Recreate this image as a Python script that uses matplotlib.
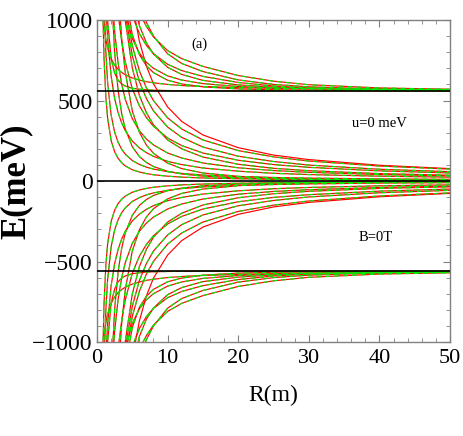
import numpy as np
import matplotlib
matplotlib.use("Agg")
import matplotlib.pyplot as plt
from matplotlib.ticker import MultipleLocator

plt.rcParams["font.family"] = ["Liberation Serif", "DejaVu Serif"]

# radius grid (m) shared by every level
R = [0.8, 1, 1.25, 1.5, 2, 2.5, 3, 3.5, 4, 5, 6, 7, 8, 10, 12, 15, 20, 25, 30, 40, 50]

GAP = 560  # edge of the gap (meV)

# levels that fall through the gap toward E = 0 (upper branch, meV)
BAND_LEVELS = [
    [1597, 1125, 802, 614, 410, 303, 239, 197, 167, 127, 103, 86, 74, 58, 47, 37, 27, 22, 18, 13, 10.5],
    [1812, 1400, 1088, 889, 651, 512, 423, 360, 313, 248, 206, 176, 153, 122, 102, 81, 61, 48, 40, 30, 24],
    [7385, 4755, 3066, 2145, 1224, 795, 560, 417, 324, 213, 152, 115, 90, 60, 44, 30, 19, 13, 10, 6.5, 4.7],
    [4947, 3477, 2473, 1890, 1257, 929, 731, 600, 508, 387, 312, 261, 224, 174, 143, 112, 82, 65, 54, 40, 32],
    [16723, 10710, 6861, 4769, 2687, 1723, 1199, 882, 677, 435, 303, 223, 172, 111, 77, 50, 29, 19, 13, 7.6, 5.0],
    [6074, 4384, 3203, 2500, 1717, 1298, 1039, 865, 740, 573, 467, 394, 340, 267, 220, 174, 129, 102, 85, 63, 50],
    [16964, 11176, 7408, 5322, 3193, 2171, 1597, 1238, 998, 702, 532, 424, 349, 255, 200, 149, 104, 79, 64, 46, 36],
    [9019, 6499, 4741, 3696, 2533, 1912, 1530, 1272, 1088, 841, 685, 578, 499, 392, 323, 255, 189, 150, 124, 93, 74],
    [18999, 12894, 8840, 6548, 4142, 2945, 2249, 1803, 1495, 1104, 869, 713, 603, 460, 370, 286, 207, 161, 133, 98, 77],
    [12015, 8250, 5728, 4289, 2763, 1992, 1539, 1245, 1041, 778, 618, 512, 435, 335, 271, 211, 154, 121, 99, 73, 58],
    [1103, 756, 524, 392, 252, 181, 140, 113, 94, 70, 56, 46, 39, 30, 24, 19, 14, 11, 9, 6.6, 5.2],
]
RED_ONLY = [8]  # only the red calculation shows this level

# levels that stay above the gap edge (upper branch, meV)
OUTER_LEVELS = [
    [6800, 5200, 4000, 3300, 2400, 1980, 1700, 1500, 1350, 1160, 1045, 960, 895, 810, 760, 712, 655, 620, 598, 578, 570],
    [31000, 20000, 13000, 9000, 5200, 3500, 2600, 2080, 1720, 1300, 1110, 985, 900, 790, 730, 680, 628, 600, 585, 571, 566],
    [8000, 6000, 4500, 3500, 2500, 1900, 1566, 1358, 1213, 1028, 916, 842, 791, 725, 686, 650, 612, 590, 578, 568, 564],
    [23000, 15000, 10000, 7000, 4200, 2900, 2185, 1754, 1474, 1145, 966, 858, 789, 706, 662, 625, 597, 583, 576, 569, 566],
    [10500, 7000, 4800, 3500, 2250, 1700, 1375, 1178, 1046, 885, 794, 737, 700, 653, 627, 605, 587, 578, 573, 568, 565],
    [27000, 16000, 10000, 6500, 3700, 2400, 1749, 1381, 1157, 909, 785, 716, 673, 626, 603, 585, 572, 567, 565, 562, 561],
    [1060, 960, 880, 827, 760, 720, 693, 674, 660, 640, 627, 617, 610, 600, 593, 587, 580, 576, 573, 570, 568],
    [3000, 1900, 1300, 1000, 760, 670, 625, 603, 590, 576, 570, 566, 564, 562, 561, 560.5, 560.3, 560.2, 560.1, 560.1, 560],
]

RED = "#ff0000"
GREEN = "#00ee00"
FRAME = "#808080"

fig = plt.figure(figsize=(4.63, 4.36), dpi=100)
ax = fig.add_axes([0.2095, 0.2156, 0.7625, 0.7385])

levels = BAND_LEVELS + OUTER_LEVELS
for sign in (1, -1):
    for i, E in enumerate(levels):
        y = sign * np.array(E)
        ax.plot(R, y, color=RED, lw=0.85, zorder=2)
        if i not in RED_ONLY:
            ax.plot(R, y, color=GREEN, lw=0.85, dashes=(4, 3.5), zorder=2.5)

for level in (GAP, 0, -GAP):
    ax.axhline(level, color="black", lw=1.2, zorder=3)

ax.set_xlim(0, 50)
ax.set_ylim(-1000, 1000)
ax.xaxis.set_major_locator(MultipleLocator(10))
ax.xaxis.set_minor_locator(MultipleLocator(2))
ax.yaxis.set_major_locator(MultipleLocator(500))
ax.yaxis.set_minor_locator(MultipleLocator(100))
ax.tick_params(which="both", direction="in", top=True, right=True, color=FRAME)
ax.tick_params(which="major", length=5, width=0.8)
ax.tick_params(which="minor", length=3, width=0.6)
ax.tick_params(axis="x", labelsize=16, pad=5)
ax.tick_params(axis="y", labelsize=17, pad=3)
for spine in ax.spines.values():
    spine.set_color(FRAME)
    spine.set_linewidth(1.0)

ax.set_xlabel("R(m)", fontsize=17, labelpad=12)
ax.set_ylabel("E(meV)", fontsize=25, fontweight="bold", labelpad=0)

ax.text(14.5, 850, "(a)", fontsize=10.5, ha="center", va="center")
ax.text(40, 355, "u=0 meV", fontsize=10.5, ha="center", va="center")
ax.text(39.5, -350, "B=0T", fontsize=10.5, ha="center", va="center")

fig.savefig("out.png", dpi=100)
